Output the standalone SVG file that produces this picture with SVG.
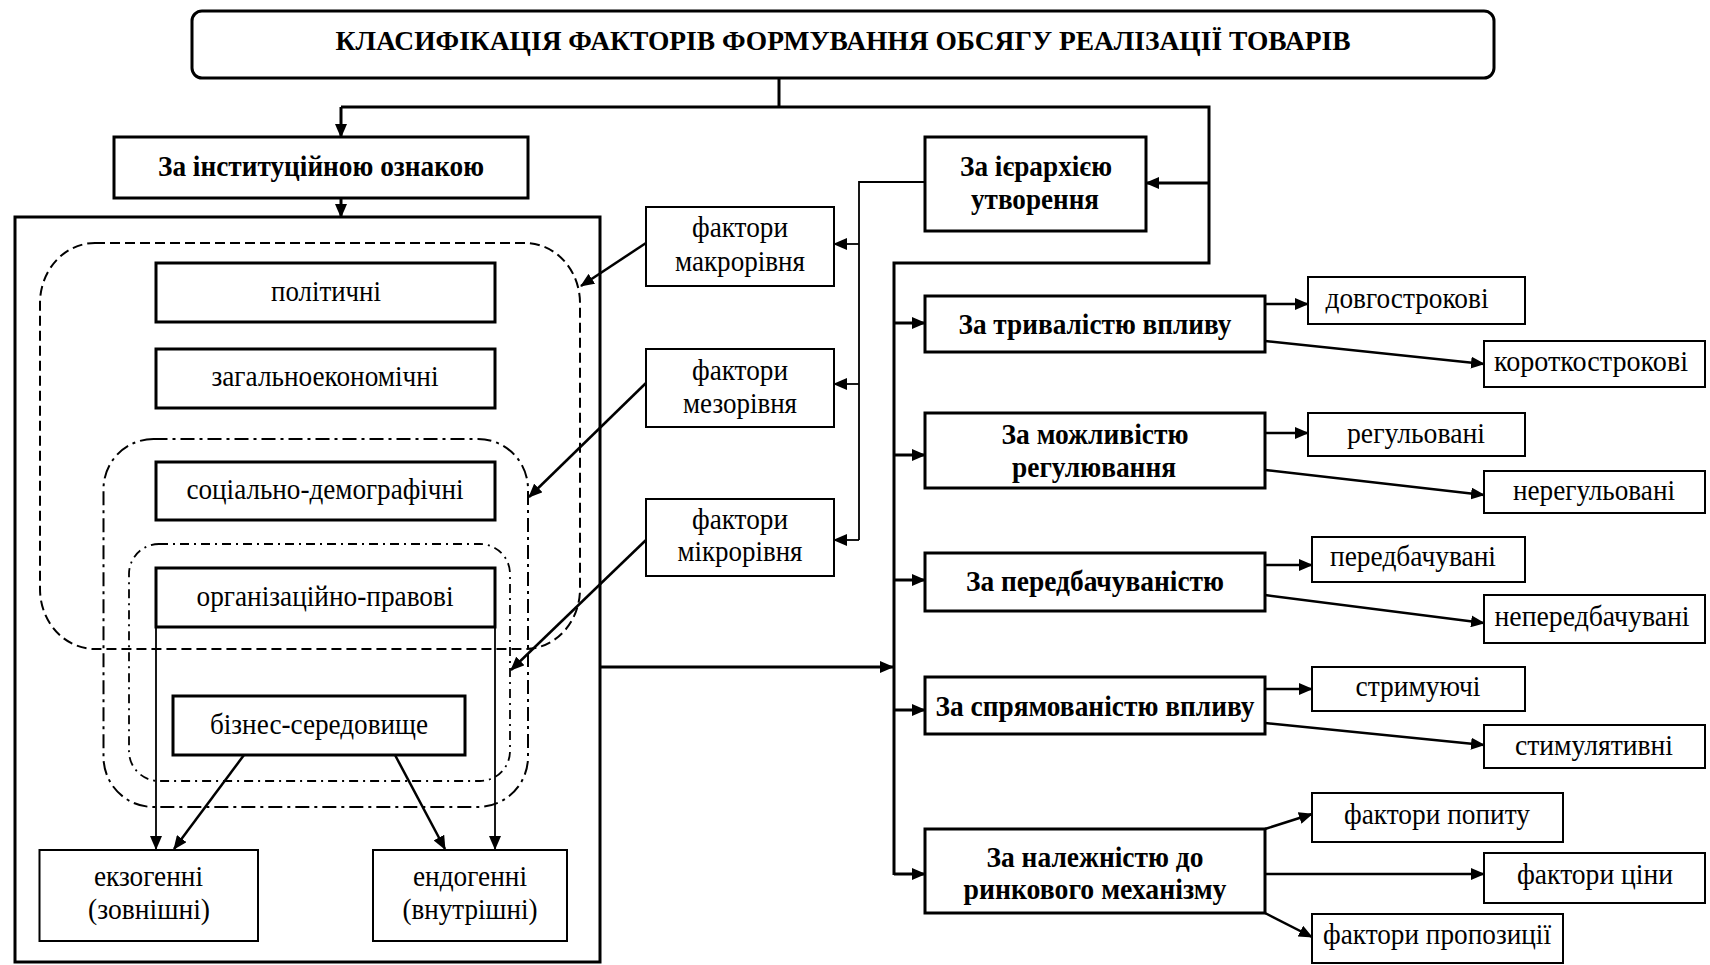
<svg xmlns="http://www.w3.org/2000/svg" width="1710" height="965" viewBox="0 0 1710 965">
<style>
.bx{fill:#fff;stroke:#000;stroke-width:3}
.lb{fill:#fff;stroke:#000;stroke-width:2}
.t{font-family:"Liberation Serif","Times New Roman",serif;font-size:29px;fill:#000;text-anchor:middle}
.b{font-weight:bold;font-size:30px}
.tt{font-size:28px}
.c{fill:none;stroke:#000;stroke-width:3}
.cm{fill:none;stroke:#000;stroke-width:2.5}
.cs{fill:none;stroke:#000;stroke-width:1.8}
.d1{fill:none;stroke:#000;stroke-width:2;stroke-dasharray:10 5}
.d2{fill:none;stroke:#000;stroke-width:2;stroke-dasharray:14 5 3 5}
.d3{fill:none;stroke:#000;stroke-width:1.8;stroke-dasharray:9 5 2 5}
</style>
<defs>
<marker id="ah" markerUnits="userSpaceOnUse" markerWidth="14" markerHeight="12" viewBox="0 0 14 12" refX="13" refY="6" orient="auto">
<path d="M0,0 L14,6 L0,12 z" fill="#000"/>
</marker>
</defs>
<rect width="1710" height="965" fill="#fff"/>

<g id="title">
<rect x="192" y="11" width="1302" height="67" rx="10" class="bx"/>
<text x="843" y="50" class="t b tt" textLength="1015" lengthAdjust="spacingAndGlyphs">КЛАСИФІКАЦІЯ ФАКТОРІВ ФОРМУВАННЯ ОБСЯГУ РЕАЛІЗАЦІЇ ТОВАРІВ</text>
</g>

<g id="container">
<rect x="15" y="217" width="585" height="745" class="bx"/>
<rect x="40" y="243" width="540" height="406" rx="55" ry="60" class="d1"/>
<rect x="103.5" y="439" width="424.5" height="368" rx="50" ry="50" class="d2"/>
<rect x="129" y="544" width="381" height="237" rx="30" ry="30" class="d3"/>
</g>

<g id="connectors">
<path d="M779,78 V107" class="c"/>
<path d="M341,107 H1209 V263 H894 V875" class="c"/>
<path d="M341,107 V137" class="c" marker-end="url(#ah)"/>
<path d="M341,198 V217" class="c" marker-end="url(#ah)"/>
<path d="M1209,183 H1146" class="c" marker-end="url(#ah)"/>
<path d="M925,182 H859 V540" class="cs"/>
<path d="M859,244 H834" class="cs" marker-end="url(#ah)"/>
<path d="M859,384 H834" class="cs" marker-end="url(#ah)"/>
<path d="M859,540 H834" class="cs" marker-end="url(#ah)"/>
<path d="M646,243 L581,286" class="cm" marker-end="url(#ah)"/>
<path d="M646,383 L529,497" class="cm" marker-end="url(#ah)"/>
<path d="M646,540 L511,670" class="cm" marker-end="url(#ah)"/>
<path d="M600,667 H893" class="c" marker-end="url(#ah)"/>
<path d="M894,323 H925" class="c" marker-end="url(#ah)"/>
<path d="M894,455 H925" class="c" marker-end="url(#ah)"/>
<path d="M894,580 H925" class="c" marker-end="url(#ah)"/>
<path d="M894,710 H925" class="c" marker-end="url(#ah)"/>
<path d="M894,874 H925" class="c" marker-end="url(#ah)"/>
<path d="M1265,304 H1308" class="cm" marker-end="url(#ah)"/>
<path d="M1265,341 L1484,364" class="cm" marker-end="url(#ah)"/>
<path d="M1265,433 H1308" class="cm" marker-end="url(#ah)"/>
<path d="M1265,470 L1484,495" class="cm" marker-end="url(#ah)"/>
<path d="M1265,565 H1312" class="cm" marker-end="url(#ah)"/>
<path d="M1265,595 L1484,623" class="cm" marker-end="url(#ah)"/>
<path d="M1265,689 H1312" class="cm" marker-end="url(#ah)"/>
<path d="M1265,723 L1484,745" class="cm" marker-end="url(#ah)"/>
<path d="M1265,829 L1312,814" class="cm" marker-end="url(#ah)"/>
<path d="M1265,874 H1484" class="cm" marker-end="url(#ah)"/>
<path d="M1265,913 L1312,937" class="cm" marker-end="url(#ah)"/>
<path d="M156,627 V849" class="cs" marker-end="url(#ah)"/>
<path d="M495,627 V849" class="cs" marker-end="url(#ah)"/>
<path d="M244,755 L174,849" class="cm" marker-end="url(#ah)"/>
<path d="M395,755 L445,849" class="cm" marker-end="url(#ah)"/>
</g>

<g id="n-institutional">
<rect x="114" y="137" width="414" height="61" class="bx"/>
<text x="321" y="176" class="t b" textLength="326" lengthAdjust="spacingAndGlyphs">За інституційною ознакою</text>
</g>
<g id="n-political">
<rect x="156" y="263" width="339" height="59" class="bx"/>
<text x="326" y="301" class="t" textLength="110" lengthAdjust="spacingAndGlyphs">політичні</text>
</g>
<g id="n-economic">
<rect x="156" y="349" width="339" height="59" class="bx"/>
<text x="325" y="386" class="t" textLength="227" lengthAdjust="spacingAndGlyphs">загальноекономічні</text>
</g>
<g id="n-social">
<rect x="156" y="462" width="339" height="58" class="bx"/>
<text x="325" y="499" class="t" textLength="277" lengthAdjust="spacingAndGlyphs">соціально-демографічні</text>
</g>
<g id="n-legal">
<rect x="156" y="568" width="339" height="59" class="bx"/>
<text x="325" y="606" class="t" textLength="257" lengthAdjust="spacingAndGlyphs">організаційно-правові</text>
</g>
<g id="n-business">
<rect x="173" y="696" width="292" height="59" class="bx"/>
<text x="319" y="734" class="t" textLength="218" lengthAdjust="spacingAndGlyphs">бізнес-середовище</text>
</g>
<g id="n-exo">
<rect x="39.5" y="850" width="218.5" height="91" class="lb"/>
<text x="148.5" y="886" class="t" textLength="109" lengthAdjust="spacingAndGlyphs">екзогенні</text>
<text x="149" y="919" class="t" textLength="122" lengthAdjust="spacingAndGlyphs">(зовнішні)</text>
</g>
<g id="n-endo">
<rect x="373" y="850" width="194" height="91" class="lb"/>
<text x="470" y="886" class="t" textLength="114" lengthAdjust="spacingAndGlyphs">ендогенні</text>
<text x="470" y="919" class="t" textLength="135" lengthAdjust="spacingAndGlyphs">(внутрішні)</text>
</g>

<g id="n-macro">
<rect x="646" y="207" width="188" height="79" class="lb"/>
<text x="740" y="237" class="t" textLength="96" lengthAdjust="spacingAndGlyphs">фактори</text>
<text x="740" y="271" class="t" textLength="130" lengthAdjust="spacingAndGlyphs">макрорівня</text>
</g>
<g id="n-meso">
<rect x="646" y="349" width="188" height="78" class="lb"/>
<text x="740" y="380" class="t" textLength="96" lengthAdjust="spacingAndGlyphs">фактори</text>
<text x="740" y="413" class="t" textLength="114" lengthAdjust="spacingAndGlyphs">мезорівня</text>
</g>
<g id="n-micro">
<rect x="646" y="499" width="188" height="77" class="lb"/>
<text x="740" y="529" class="t" textLength="96" lengthAdjust="spacingAndGlyphs">фактори</text>
<text x="740" y="561" class="t" textLength="125" lengthAdjust="spacingAndGlyphs">мікрорівня</text>
</g>

<g id="n-hierarchy">
<rect x="925" y="137" width="221" height="94" class="bx"/>
<text x="1036" y="176" class="t b" textLength="152" lengthAdjust="spacingAndGlyphs">За ієрархією</text>
<text x="1035" y="209" class="t b" textLength="128" lengthAdjust="spacingAndGlyphs">утворення</text>
</g>
<g id="n-duration">
<rect x="925" y="296" width="340" height="56" class="bx"/>
<text x="1095" y="334" class="t b" textLength="273" lengthAdjust="spacingAndGlyphs">За тривалістю впливу</text>
</g>
<g id="n-regulation">
<rect x="925" y="413" width="340" height="75" class="bx"/>
<text x="1095" y="444" class="t b" textLength="187" lengthAdjust="spacingAndGlyphs">За можливістю</text>
<text x="1094" y="477" class="t b" textLength="164" lengthAdjust="spacingAndGlyphs">регулювання</text>
</g>
<g id="n-predict">
<rect x="925" y="553" width="340" height="58" class="bx"/>
<text x="1095" y="591" class="t b" textLength="258" lengthAdjust="spacingAndGlyphs">За передбачуваністю</text>
</g>
<g id="n-direction">
<rect x="925" y="677" width="340" height="57" class="bx"/>
<text x="1095" y="716" class="t b" textLength="319" lengthAdjust="spacingAndGlyphs">За спрямованістю впливу</text>
</g>
<g id="n-market">
<rect x="925" y="829" width="340" height="84" class="bx"/>
<text x="1095" y="867" class="t b" textLength="217" lengthAdjust="spacingAndGlyphs">За належністю до</text>
<text x="1095" y="899" class="t b" textLength="263" lengthAdjust="spacingAndGlyphs">ринкового механізму</text>
</g>

<g id="l-long">
<rect x="1308" y="277" width="217" height="47" class="lb"/>
<text x="1407" y="308" class="t" textLength="163" lengthAdjust="spacingAndGlyphs">довгострокові</text>
</g>
<g id="l-short">
<rect x="1484" y="341" width="221" height="46" class="lb"/>
<text x="1591" y="371" class="t" textLength="194" lengthAdjust="spacingAndGlyphs">короткострокові</text>
</g>
<g id="l-reg">
<rect x="1308" y="413" width="217" height="43" class="lb"/>
<text x="1416" y="443" class="t" textLength="138" lengthAdjust="spacingAndGlyphs">регульовані</text>
</g>
<g id="l-unreg">
<rect x="1484" y="471" width="221" height="42" class="lb"/>
<text x="1594" y="500" class="t" textLength="162" lengthAdjust="spacingAndGlyphs">нерегульовані</text>
</g>
<g id="l-pred">
<rect x="1312" y="537" width="213" height="45" class="lb"/>
<text x="1413" y="566" class="t" textLength="166" lengthAdjust="spacingAndGlyphs">передбачувані</text>
</g>
<g id="l-unpred">
<rect x="1484" y="595" width="221" height="48" class="lb"/>
<text x="1592" y="626" class="t" textLength="195" lengthAdjust="spacingAndGlyphs">непередбачувані</text>
</g>
<g id="l-restrain">
<rect x="1312" y="667" width="213" height="44" class="lb"/>
<text x="1418" y="696" class="t" textLength="125" lengthAdjust="spacingAndGlyphs">стримуючі</text>
</g>
<g id="l-stim">
<rect x="1484" y="725" width="221" height="43" class="lb"/>
<text x="1594" y="755" class="t" textLength="158" lengthAdjust="spacingAndGlyphs">стимулятивні</text>
</g>
<g id="l-demand">
<rect x="1312" y="793" width="251" height="49" class="lb"/>
<text x="1437" y="824" class="t" textLength="186" lengthAdjust="spacingAndGlyphs">фактори попиту</text>
</g>
<g id="l-price">
<rect x="1484" y="853" width="221" height="50" class="lb"/>
<text x="1595" y="884" class="t" textLength="156" lengthAdjust="spacingAndGlyphs">фактори ціни</text>
</g>
<g id="l-supply">
<rect x="1312" y="914" width="251" height="49" class="lb"/>
<text x="1437" y="944" class="t" textLength="228" lengthAdjust="spacingAndGlyphs">фактори пропозиції</text>
</g>
</svg>
